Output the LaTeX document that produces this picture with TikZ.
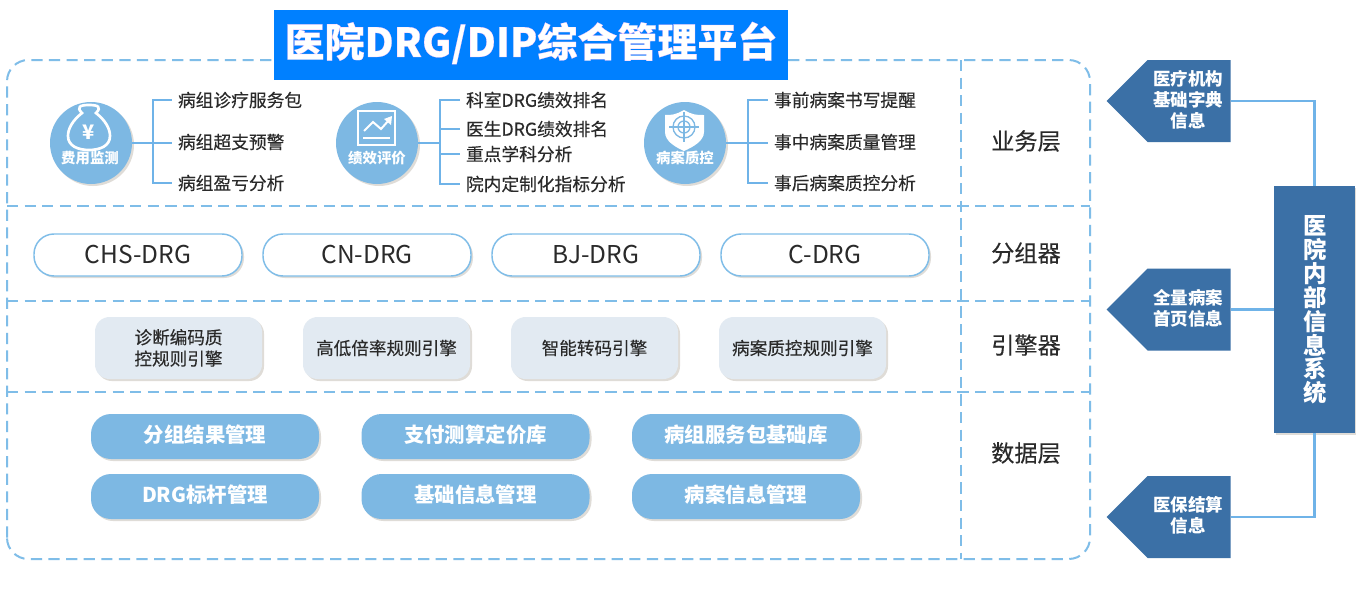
\documentclass[tikz,border=0pt]{standalone}
\usepackage{fontspec}
\setmainfont{Noto Sans CJK SC}
\newfontfamily\midfont[FakeBold=0.25]{Noto Sans CJK SC}
\usetikzlibrary{shapes.symbols,shadows,calc}
\definecolor{dashblue}{HTML}{7FBDE8}
\definecolor{circblue}{HTML}{7DB8E3}
\definecolor{steel}{HTML}{3B70A6}
\definecolor{linkblue}{HTML}{6FB3E8}
\definecolor{engfill}{HTML}{E2EAF2}
\definecolor{ink}{HTML}{2A2A2A}
\definecolor{shade}{HTML}{D8D4CE}
\definecolor{titleblue}{HTML}{0080FF}
\tikzset{
  dashline/.style={draw=dashblue,line width=1.5pt,dash pattern=on 8.4pt off 4.8pt},
  softshadow/.style={drop shadow={shadow xshift=1.5pt,shadow yshift=-1.5pt,fill=shade,opacity=.8}},
  badge/.style={circle,fill=circblue,minimum size=82*.75pt,inner sep=0pt,softshadow},
  badgetext/.style={text=white,font=\bfseries\fontsize{10.8pt}{13pt}\selectfont,inner sep=0pt},
  item/.style={anchor=west,text=ink,font=\midfont\fontsize{13.3pt}{16pt}\selectfont,inner sep=0pt,outer sep=4.5pt},
  branch/.style={draw=linkblue,line width=1.1pt},
  grouper/.style={draw=dashblue,line width=1.1pt,fill=white,rounded corners=15pt,minimum width=208*.75pt,minimum height=42*.75pt,inner sep=0pt,text=ink,font=\fontsize{18.4pt}{22pt}\selectfont,softshadow},
  engine/.style={fill=engfill,rounded corners=11pt,minimum width=167*.75pt,minimum height=62*.75pt,inner sep=0pt,align=center,text=ink,font=\midfont\fontsize{13.2pt}{16pt}\selectfont,softshadow},
  datum/.style={fill=circblue,rounded corners=15pt,minimum width=228*.75pt,minimum height=45*.75pt,inner sep=0pt,text height=13pt,text depth=3.6pt,text=white,font=\bfseries\fontsize{15.3pt}{18pt}\selectfont,softshadow},
  layer/.style={text=ink,font=\midfont\fontsize{17.4pt}{21pt}\selectfont,inner sep=0pt},
  sig/.style={shape=signal,signal to=west,signal from=nowhere,signal pointer angle=90,fill=steel,minimum width=124*.75pt,minimum height=82*.75pt,inner sep=0pt},
  sigtext/.style={text=white,align=center,font=\bfseries\fontsize{13.1pt}{15.9pt}\selectfont,inner sep=0pt},
  link/.style={draw=linkblue,line width=1.9pt},
  icon/.style={draw=white,line width=1.5pt},
}
\begin{document}
\begin{tikzpicture}[x=.75pt,y=-.75pt]
\useasboundingbox (0,0) rectangle (1356,600);
\fill[white] (0,0) rectangle (1356,600);

% outer frame and dividers
\node[minimum width=1083*.75pt,minimum height=499*.75pt,inner sep=0pt,outer sep=0pt] (frame) at (548.5,309.5) {};
\draw[dashline,rounded corners=16pt] (frame.south west) rectangle (frame.north east);
\draw[dashline] (frame.west |- 0,206) -- (frame.east |- 0,206);
\draw[dashline] (frame.west |- 0,301) -- (frame.east |- 0,301);
\draw[dashline] (frame.west |- 0,392) -- (frame.east |- 0,392);
\draw[dashline] (961,0 |- frame.north) -- (961,0 |- frame.south);

% title
\node[fill=titleblue,minimum width=514*.75pt,minimum height=70*.75pt,inner sep=0pt] (title) at (531,45) {};
\node[inner sep=0pt,text=white,font=\bfseries\fontsize{30pt}{36pt}\selectfont] (titletext) at (531,43) {\addfontfeature{FakeBold=0.5}\special{pdf:bcolor [1 1 1] [0.96 0.72 0.97]}医院DRG/DIP综合管理平台\special{pdf:ecolor}};

% badges
\node[badge] (c1) at (91,143) {};
\node[badge] (c2) at (377,143) {};
\node[badge] (c3) at (685,143) {};
\node[badgetext] (c1t) at (90,158) {费用监测};
\node[badgetext] (c2t) at (377,158) {绩效评价};
\node[badgetext] (c3t) at (685,158) {病案质控};

% bag icon
\draw[icon,line width=2pt] (82,113) .. controls (76,107) and (80,105) .. (89,105) .. controls (98,105) and (102,107) .. (96,113)
  .. controls (106,121) and (110,129) .. (110,136) .. controls (110,146) and (100,150) .. (89,150)
  .. controls (78,150) and (68,146) .. (68,136) .. controls (68,129) and (72,121) .. (82,113) -- cycle;
\node[inner sep=0pt,text=white,font=\bfseries\fontsize{15pt}{16pt}\selectfont] (yen) at (89,132) {¥};
% chart icon
\draw[icon] (358,111) rectangle (395,145);
\draw[icon] (364,131) -- (373,122) -- (381,129) -- (389,120);
\fill[white] (392,116) -- (391,125) -- (384,119) -- cycle;
\draw[icon] (363,138) -- (390,138);
% shield icon
\fill[white] (684,110) .. controls (675,115) and (672,115) .. (665,115) -- (665,132) .. controls (665,141) and (675,147) .. (684,151)
  .. controls (693,147) and (704,141) .. (704,132) -- (704,115) .. controls (696,115) and (693,115) .. (684,110) -- cycle;
\draw[circblue,line width=1pt] (684,127) circle[radius=11];
\draw[circblue,line width=1pt] (684,127) circle[radius=6];
\draw[circblue,line width=1pt] (684,112) -- (684,142) (669,127) -- (699,127);

% items group 1
\node[item] (a1) at (172,100) {病组诊疗服务包};
\node[item] (a2) at (172,142) {病组超支预警};
\node[item] (a3) at (172,183) {病组盈亏分析};
\coordinate (ba) at (153,143);
\draw[branch] (c1) -- (a2.west |- ba);
\draw[branch] (ba) |- (a1.west);
\draw[branch] (ba) |- (a3.west);
% items group 2
\node[item] (b1) at (460,100) {科室DRG绩效排名};
\node[item] (b2) at (460,129) {医生DRG绩效排名};
\node[item] (b3) at (460,154) {重点学科分析};
\node[item] (b4) at (460,184) {院内定制化指标分析};
\coordinate (bb) at (440,143);
\draw[branch] (c2) -- (bb);
\draw[branch] (bb) |- (b1.west);
\draw[branch] (bb) |- (b2.west);
\draw[branch] (bb) |- (b3.west);
\draw[branch] (bb) |- (b4.west);
% items group 3
\node[item] (d1) at (768,100) {事前病案书写提醒};
\node[item] (d2) at (768,142) {事中病案质量管理};
\node[item] (d3) at (768,183) {事后病案质控分析};
\coordinate (bd) at (748,143);
\draw[branch] (c3) -- (d2.west |- bd);
\draw[branch] (bd) |- (d1.west);
\draw[branch] (bd) |- (d3.west);

% groupers
\node[grouper] (g1) at (138,255) {CHS-DRG};
\node[grouper] (g2) at (367,255) {CN-DRG};
\node[grouper] (g3) at (596,255) {BJ-DRG};
\node[grouper] (g4) at (825,255) {C-DRG};

% engines
\node[engine] (e1) at (178.5,348) {\raisebox{1.2pt}{诊断编码质}\\\raisebox{1.2pt}{控规则引擎}};
\node[engine] (e2) at (386.5,348) {高低倍率规则引擎};
\node[engine] (e3) at (594.5,348) {智能转码引擎};
\node[engine] (e4) at (802.5,348) {病案质控规则引擎};

% data
\node[datum] (f1) at (205,436.5) {分组结果管理};
\node[datum] (f2) at (475.5,436.5) {支付测算定价库};
\node[datum] (f3) at (746,436.5) {病组服务包基础库};
\node[datum] (f4) at (205,496.5) {DRG标杆管理};
\node[datum] (f5) at (475.5,496.5) {基础信息管理};
\node[datum] (f6) at (746,496.5) {病案信息管理};

% layer names
\node[layer] (l1) at (1026,141) {业务层};
\node[layer] (l2) at (1026,253) {分组器};
\node[layer] (l3) at (1026,345) {引擎器};
\node[layer] (l4) at (1026,453) {数据层};

% right side
\node[fill=steel,minimum width=81*.75pt,minimum height=247*.75pt,inner sep=0pt,softshadow] (his) at (1314.5,309.5) {};
\node[inner sep=0pt,text=white,align=center,font=\bfseries\fontsize{17.5pt}{17.9pt}\selectfont] (histext) at (1315,310) {医\\院\\内\\部\\信\\息\\系\\统};
\node[sig] (p1) at (1189,101) {};
\node[sig] (p2) at (1189,309.5) {};
\node[sig] (p3) at (1189,517) {};
\node[sigtext] (p1t) at (1188,100) {医疗机构\\基础字典\\信息};
\node[sigtext] (p2t) at (1188,308) {全量病案\\首页信息};
\node[sigtext] (p3t) at (1188,515) {医保结算\\信息};
\draw[link] (p1.east) -| (his.north);
\draw[link] (p2.east) -- (his.west |- p2.east);
\draw[link] (p3.east) -| (his.south);
\end{tikzpicture}
\end{document}
